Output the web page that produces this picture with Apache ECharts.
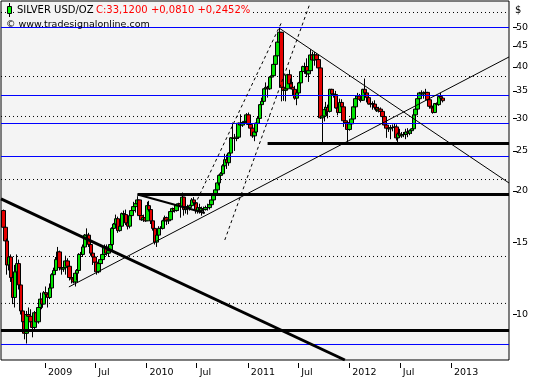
<!DOCTYPE html>
<html><head><meta charset="utf-8">
<script src="https://cdn.jsdelivr.net/npm/echarts@6/dist/echarts.min.js"></script>
<style>html,body{margin:0;padding:0;background:#fff}#c{width:540px;height:380px}</style>
</head><body><div id="c"></div>
<script>
// Weekly candles, first week starting 2008-08-04. Rows: [open, high, low, close]
const FIRST_WEEK = '2008-08-04';
const ohlc2008 = [
[17.9,18.0,16.0,16.3],[16.3,16.6,14.8,15.1],[15.1,15.3,12.5,13.2],[13.2,14.2,12.8,13.8],
[13.8,14.0,12.0,12.3],[12.3,12.4,10.6,11.0],[11.0,13.2,10.4,12.7],[12.7,14.0,12.5,13.3],
[13.3,13.6,11.5,11.8],[11.8,11.9,10.0,10.2],[10.2,10.6,9.2,9.6],[9.6,9.9,8.7,9.0],
[9.0,10.2,8.5,10.0],[10.0,10.4,9.4,9.9],[9.9,10.3,9.4,9.6],[9.6,9.8,8.8,9.3],
[9.3,10.2,9.1,10.1],[10.1,10.1,9.4,9.6],[9.6,10.6,9.5,10.4],[10.4,11.3,10.3,10.9],
[10.9,10.9,10.3,10.6],[10.6,11.4,10.6,11.3]];
const ohlc2009 = [
[11.3,11.7,10.9,11.2],[11.2,11.3,10.4,11.0],[11.0,11.9,10.9,11.6],[11.6,12.6,11.5,12.5],
[12.5,13.0,12.0,12.8],[12.8,13.8,12.7,13.6],[13.6,14.6,13.5,14.2],[14.2,14.3,12.8,13.0],
[13.0,13.3,12.5,12.9],[12.9,13.2,12.7,13.0],[13.0,13.9,12.5,13.5],[13.5,13.7,12.9,13.1],
[13.1,13.3,12.1,12.3],[12.3,12.5,11.9,12.2],[12.2,12.6,11.9,12.0],[12.0,12.7,11.7,12.6],
[12.6,12.9,12.1,12.8],[12.8,14.1,12.8,14.0],[14.0,14.2,13.6,14.0],[14.0,14.8,13.8,14.6],
[14.6,15.7,14.5,15.6],[15.6,16.2,15.1,15.6],[15.6,15.8,14.6,14.8],[14.8,15.0,13.9,14.1],
[14.1,14.1,13.2,13.8],[13.8,14.1,13.3,13.4],[13.4,13.4,12.5,12.7],[12.7,13.4,12.6,13.3],
[13.3,13.8,13.2,13.6],[13.6,14.1,13.3,14.0],[14.0,14.8,13.9,14.6],[14.6,14.8,13.9,14.1],
[14.1,14.5,13.8,14.3],[14.3,14.9,14.2,14.8],[14.8,16.3,14.7,16.2],[16.2,16.7,16.0,16.6],
[16.6,17.5,16.5,17.1],[17.1,17.3,15.8,16.0],[16.0,16.6,15.9,16.4],[16.4,17.7,16.3,17.6],
[17.6,17.9,17.2,17.5],[17.5,18.0,16.5,16.7],[16.7,16.8,16.1,16.4],[16.4,17.5,16.2,17.4],
[17.4,18.0,17.0,17.9],[17.9,18.8,17.8,18.3],[18.3,18.9,17.7,18.6],[18.6,19.4,18.4,19.0],
[19.0,19.0,17.3,17.4],[17.4,17.8,16.9,17.0],[17.0,17.5,16.8,17.2],[17.2,17.5,16.8,16.9]];
const ohlc2010 = [
[16.9,18.8,16.9,18.4],[18.4,18.9,17.8,18.0],[18.0,18.2,16.6,16.9],[16.9,17.0,16.0,16.2],
[16.2,16.5,14.8,15.0],[15.0,15.8,14.6,15.6],[15.6,16.4,15.5,16.2],[16.2,16.4,15.7,16.2],
[16.2,17.0,16.1,16.9],[16.9,17.4,16.8,17.2],[17.2,17.3,16.5,16.9],[16.9,17.2,16.6,17.0],
[17.0,17.9,16.9,17.8],[17.8,18.2,17.6,18.1],[18.1,18.5,17.7,17.9],[17.9,18.5,17.8,18.4],
[18.4,18.7,17.9,18.6],[18.6,19.2,17.2,18.3],[18.3,19.8,18.2,19.3],[19.3,19.3,17.4,18.0],
[18.0,18.4,17.6,18.3],[18.3,18.5,17.5,18.2],[18.2,18.5,17.9,18.4],[18.4,19.2,18.3,19.0],
[19.0,19.3,18.6,18.7],[18.7,18.8,17.6,17.9],[17.9,18.3,17.6,18.2],[18.2,18.6,17.6,17.9],
[17.9,18.3,17.4,18.1],[18.1,18.3,17.6,18.0],[18.0,18.4,17.9,18.2],[18.2,18.6,17.9,18.2],
[18.2,18.6,18.0,18.5],[18.5,19.1,18.4,19.0],[19.0,19.8,18.9,19.7],[19.7,20.1,19.5,20.1],
[20.1,20.9,19.8,20.9],[20.9,21.9,20.6,21.8],[21.8,22.2,21.4,22.0],[22.0,23.2,21.9,23.0],
[23.0,24.6,22.9,23.8],[23.8,24.5,22.6,23.4],[23.4,24.8,23.0,24.7],[24.7,27.0,24.5,26.9],
[26.9,29.3,25.8,26.8],[26.8,27.5,25.0,26.8],[26.8,28.0,26.4,27.0],[27.0,29.3,26.8,29.2],
[29.2,30.7,28.6,28.9],[28.9,29.4,28.6,29.3],[29.3,29.6,28.9,29.5],[29.5,30.9,29.4,30.6]];
const ohlc2011 = [
[30.6,31.0,28.6,29.0],[29.0,30.0,28.3,28.4],[28.4,28.9,26.9,27.2],[27.2,28.0,26.4,27.8],
[27.8,29.3,27.6,29.2],[29.2,30.4,28.8,30.0],[30.0,32.5,29.9,32.4],[32.4,33.7,31.7,33.0],
[33.0,35.5,32.9,35.4],[35.4,36.7,34.2,35.7],[35.7,36.0,33.7,35.4],[35.4,37.9,35.2,37.8],
[37.8,38.2,36.8,38.1],[38.1,40.7,37.9,40.6],[40.6,43.0,40.2,42.6],[42.6,47.5,42.4,46.0],
[46.0,49.8,46.0,48.6],[48.6,48.6,33.0,35.7],[35.7,39.4,33.1,35.1],[35.1,36.0,33.0,35.4],
[35.4,38.5,35.2,38.3],[38.3,39.4,35.6,36.4],[36.4,37.5,35.3,35.7],[35.7,36.8,34.2,35.3],
[35.3,36.0,33.3,33.6],[33.6,34.8,32.3,34.6],[34.6,36.8,34.4,36.6],[36.6,39.1,35.8,39.0],
[39.0,40.3,38.4,40.1],[40.1,41.0,38.5,40.1],[40.1,42.0,37.8,38.5],[38.5,40.8,36.8,39.2],
[39.2,44.2,39.1,42.8],[42.8,43.6,39.1,41.6],[41.6,43.5,40.3,42.8],[42.8,43.2,40.2,41.7],
[41.7,42.3,39.3,39.8],[39.8,41.1,29.9,30.1],[30.1,32.5,26.1,30.4],[30.4,32.0,29.5,31.5],
[31.5,32.9,30.6,31.9],[31.9,32.4,30.0,31.2],[31.2,35.4,31.0,35.3],[35.3,35.4,32.7,34.4],
[34.4,35.3,33.7,34.3],[34.3,35.0,31.7,31.8],[31.8,32.6,30.5,31.0],[31.0,33.5,30.9,32.8],
[32.8,33.4,31.6,32.0],[32.0,32.0,28.6,29.6],[29.6,29.8,28.7,29.3],[29.3,29.3,26.2,28.2]];
const ohlc2012 = [
[28.2,29.8,28.0,29.1],[29.1,30.3,28.7,29.9],[29.9,32.1,29.8,32.0],[32.0,34.1,31.8,33.5],
[33.5,34.6,33.1,34.0],[34.0,34.4,33.1,33.4],[33.4,33.9,32.8,33.2],[33.2,35.4,33.1,35.3],
[35.3,37.5,34.2,34.6],[34.6,35.0,32.8,33.7],[33.7,34.6,32.4,32.5],[32.5,33.0,31.9,32.6],
[32.6,33.0,31.5,32.5],[32.5,33.2,31.5,31.9],[31.9,32.4,31.1,31.3],[31.3,32.0,31.0,31.6],
[31.6,31.9,30.6,31.2],[31.2,31.3,29.9,30.3],[30.3,30.4,28.4,28.9],[28.9,29.0,26.9,28.4],
[28.4,28.8,27.8,28.3],[28.3,28.9,26.7,28.5],[28.5,29.0,27.9,28.5],[28.5,29.1,28.1,28.6],
[28.6,29.0,26.5,26.9],[26.9,27.7,26.1,27.5],[27.5,28.3,26.9,27.2],[27.2,27.8,26.9,27.4],
[27.4,27.8,27.0,27.4],[27.4,28.3,26.7,27.8],[27.8,28.4,27.0,27.6],[27.6,28.2,27.3,28.0],
[28.0,28.4,27.5,28.3],[28.3,30.7,28.2,30.6],[30.6,31.8,30.3,31.6],[31.6,33.7,31.2,33.5],
[33.5,34.8,32.9,34.6],[34.6,35.1,34.0,34.4],[34.4,34.9,33.5,34.6],[34.6,35.4,34.2,34.7],
[34.7,34.8,33.0,33.3],[33.3,33.5,31.7,32.1],[32.1,32.4,31.1,31.8],[31.8,32.2,30.8,31.0],
[31.0,32.7,30.9,32.6],[32.6,32.8,32.1,32.4],[32.4,34.0,32.2,33.9],[33.9,34.6,33.3,33.6],
[33.6,33.8,32.8,33.12]];

// axis
const X_MIN = '2008-07-26T16:00Z';
const X_MAX = '2013-07-28T17:00Z';
const Y_MIN = 7.75, Y_MAX = 57.9;
const xTickDates = ['2009-01-01','2009-07-01','2010-01-01','2010-07-01','2011-01-01','2011-07-01','2012-01-01','2012-07-01','2013-01-01'];
const yTickValues = [10,15,20,25,30,35,40,45,50];

// horizontal levels
const blueLevels = [49.91, 34.10, 29.15, 24.23, 8.453];
const dottedLevels = [54.29, 37.93, 30.32, 21.30, 13.84, 10.64];
const thickLevelFull = [9.143];

// drawn trend lines [date, price]
const thickDown = [[X_MIN, 19.1], ['2011-12-16', 7.75]];
const level196 = [['2009-11-30', 19.59], [X_MAX, 19.59]];
const level261 = [['2011-03-13', 26.06], [X_MAX, 26.06]];
const triLine = [['2009-11-30', 19.59], ['2010-07-30', 17.66]];
const supportLine = [['2009-03-28', 11.67], [X_MAX, 42.32]];
const resistLine = [['2011-04-23', 49.78], [X_MAX, 20.89]];
const dash1 = [['2010-06-24', 18.47], ['2011-05-03', 51.5]];
const dash2 = [['2010-10-10', 15.18], ['2011-08-10', 56.5]];

const ts = s => Date.parse(s.length === 10 ? s + 'T00:00:00Z' : s);
const DAY = 86400000;
const allRows = [].concat(ohlc2008, ohlc2009, ohlc2010, ohlc2011, ohlc2012);
const t0 = ts(FIRST_WEEK);
const candles = allRows.map((r, i) => [t0 + i * 7 * DAY, r[0], r[3], r[2], r[1]]);

const seg = pts => pts.map(p => [ts(p[0]), p[1]]);
const hline = v => [[ts(X_MIN), v], [ts(X_MAX), v]];
const lineSeries = (data, style, z) => ({
  type: 'line', data: data, symbol: 'none', silent: true, animation: false,
  lineStyle: style, z: z || 4, clip: true
});

const series = [{
  type: 'candlestick', data: candles, encode: { x: 0, y: [1, 2, 3, 4] },
  barWidth: 4, z: 2,
  itemStyle: { color: '#00e400', color0: '#e40000', borderColor: '#000', borderColor0: '#000', borderWidth: 1 }
}];
dottedLevels.forEach(v => series.push(lineSeries(hline(v), { color: '#000', width: 1, type: [1, 3] }, 1)));
blueLevels.forEach(v => series.push(lineSeries(hline(v), { color: '#0000ff', width: 1 }, 3)));
thickLevelFull.forEach(v => series.push(lineSeries(hline(v), { color: '#000', width: 3 }, 4)));
series.push(lineSeries(seg(thickDown), { color: '#000', width: 3 }));
series.push(lineSeries(seg(level196), { color: '#000', width: 3 }));
series.push(lineSeries(seg(level261), { color: '#000', width: 3 }));
series.push(lineSeries(seg(triLine), { color: '#000', width: 2 }));
series.push(lineSeries(seg(supportLine), { color: '#000', width: 1 }));
series.push(lineSeries(seg(resistLine), { color: '#000', width: 1 }));
series.push(lineSeries(seg(dash1), { color: '#000', width: 1, type: [3, 3] }));
series.push(lineSeries(seg(dash2), { color: '#000', width: 1, type: [3, 3] }));

const FONT = 'DejaVu Sans';
const chart = echarts.init(document.getElementById('c'), null, { renderer: 'canvas' });
chart.setOption({
  animation: false,
  backgroundColor: '#fff',
  grid: { left: 1, right: 31, top: 1, bottom: 20, show: true, backgroundColor: '#f4f4f4', borderColor: '#000', borderWidth: 1 },
  xAxis: {
    type: 'value', min: ts(X_MIN), max: ts(X_MAX), offset: 3,
    axisLine: { show: false }, splitLine: { show: false },
    axisTick: { show: true, length: 5, customValues: xTickDates.map(ts), lineStyle: { color: '#000' } },
    axisLabel: {
      customValues: xTickDates.map(ts), align: 'left', margin: 5, padding: [0, 0, 0, 3],
      color: '#000', fontFamily: FONT, fontSize: 9.5, hideOverlap: false,
      formatter: v => { const d = new Date(v); return d.getUTCMonth() === 0 ? String(d.getUTCFullYear()) : 'Jul'; }
    }
  },
  yAxis: [
    { type: 'log', logBase: 10, min: Y_MIN, max: Y_MAX, position: 'right', show: false },
    {
      type: 'value', min: Math.log10(Y_MIN), max: Math.log10(Y_MAX), position: 'right', offset: 4,
      axisLine: { show: false }, splitLine: { show: false },
      axisTick: { show: true, length: 4, customValues: yTickValues.map(Math.log10), lineStyle: { color: '#000' } },
      axisLabel: {
        customValues: yTickValues.map(Math.log10), margin: 3, color: '#000', fontFamily: FONT, fontSize: 9.5,
        formatter: v => String(Math.round(Math.pow(10, v)))
      }
    }
  ],
  series: series,
  graphic: [
    { type: 'line', z: 20, shape: { x1: 9.5, y1: 3, x2: 9.5, y2: 17 }, style: { stroke: '#000', lineWidth: 1 } },
    { type: 'rect', z: 21, shape: { x: 7.5, y: 6.5, width: 4, height: 7 }, style: { fill: '#00ff00', stroke: '#000', lineWidth: 1 } },
    { type: 'text', z: 20, x: 17, y: 10, style: { text: 'SILVER USD/OZ', fill: '#000', font: '10px "DejaVu Sans"', verticalAlign: 'middle', backgroundColor: '#f4f4f4', padding: [1, 1, 1, 0] } },
    { type: 'text', z: 20, x: 96, y: 10, style: { text: 'C:33,1200 +0,0810 +0,2452%', fill: '#ff0000', font: '10px "DejaVu Sans"', verticalAlign: 'middle', backgroundColor: '#f4f4f4', padding: [1, 2, 1, 0] } },
    { type: 'text', z: 20, x: 6, y: 25, style: { text: '© www.tradesignalonline.com', fill: '#000', font: '9.5px "DejaVu Sans"', verticalAlign: 'middle' } },
    { type: 'text', z: 20, x: 515, y: 10, style: { text: '$', fill: '#000', font: '10px "DejaVu Sans"', verticalAlign: 'middle' } }
  ]
});
</script></body></html>
